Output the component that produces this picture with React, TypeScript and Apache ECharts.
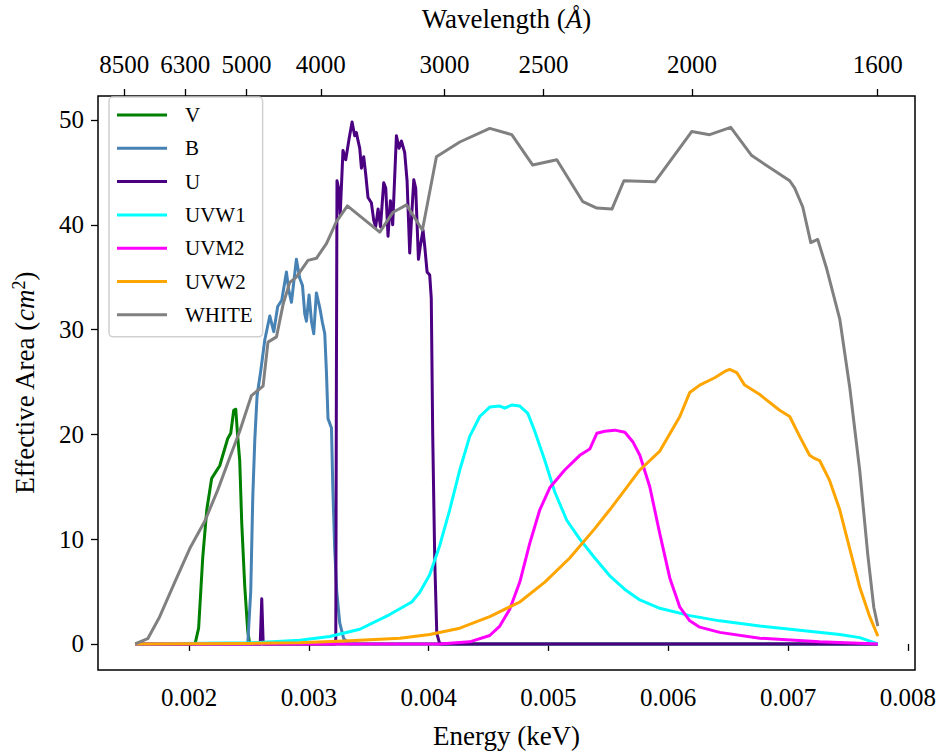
import React, { useEffect, useRef } from "react";
import * as echarts from "echarts";

// Tick labels
const energyTicks = [0.002, 0.003, 0.004, 0.005, 0.006, 0.007, 0.008];
const wavelengthTicks = [8500, 6300, 5000, 4000, 3000, 2500, 2000, 1600];
const areaTicks = [0, 10, 20, 30, 40, 50];
const HC = 12.398; // keV * Angstrom, energy = HC / wavelength

// Series values: [energy (keV), effective area (cm^2)]
const V: number[][] = [
  [0.00155, 0], [0.00205, 0], [0.00208, 1.5], [0.002114, 8.2], [0.002148, 12.8],
  [0.002189, 15.8], [0.002256, 17.0], [0.002323, 19.6], [0.002348, 20.1],
  [0.002373, 22.3], [0.00239, 22.4], [0.002406, 19.8], [0.002423, 17.5],
  [0.00244, 11.5], [0.002465, 5.5], [0.00249, 1.2], [0.002507, 0], [0.00775, 0],
];

const B: number[][] = [
  [0.00155, 0], [0.00249, 0], [0.002515, 5], [0.002532, 14], [0.002549, 19.5],
  [0.002568, 23.7], [0.002598, 26], [0.002632, 29.0], [0.002674, 31.3],
  [0.002707, 29.8], [0.00274, 32.2], [0.002774, 32.8], [0.002813, 35.5],
  [0.002832, 33.8], [0.002855, 32.6], [0.002874, 34.5], [0.002896, 36.7],
  [0.002924, 34.9], [0.002947, 34.2], [0.002966, 31.5], [0.00298, 30.8],
  [0.003002, 33.3], [0.003022, 30.8], [0.003041, 29.6], [0.003063, 33.5],
  [0.003091, 32.1], [0.003113, 30.7], [0.003133, 29.6], [0.003147, 25.9],
  [0.00316, 21.5], [0.003189, 20.6], [0.0032, 15], [0.003216, 9], [0.003233, 5],
  [0.003258, 2], [0.003291, 0.5], [0.003341, 0], [0.00775, 0],
];

const U: number[][] = [
  [0.00155, 0], [0.002594, 0], [0.002607, 4.3], [0.002619, 0], [0.003218, 0],
  [0.003225, 0.5], [0.00323, 25], [0.003235, 44.2], [0.003252, 43.3],
  [0.003262, 41.0], [0.003285, 47.1], [0.003308, 46.2], [0.003336, 48.2],
  [0.003361, 49.8], [0.003383, 48.5], [0.003397, 48.8], [0.003411, 48.0],
  [0.003425, 47.3], [0.003439, 45.4], [0.003458, 46.5], [0.003475, 44.8],
  [0.003494, 42.6], [0.003522, 42.1], [0.003542, 40.4], [0.003558, 39.8],
  [0.003578, 41.5], [0.003598, 39.8], [0.003625, 44.0], [0.003642, 43.5],
  [0.003661, 38.9], [0.003681, 42.3], [0.0037, 40.0], [0.003731, 48.5],
  [0.003753, 47.3], [0.003773, 48.0], [0.0038, 46.9], [0.00382, 44.2],
  [0.003842, 37.3], [0.003859, 41.0], [0.003876, 44.3], [0.003892, 43.5],
  [0.003915, 36.7], [0.003931, 38.0], [0.003953, 39.5], [0.003967, 38.0],
  [0.003987, 35.5], [0.004009, 35.2], [0.004022, 33], [0.004034, 20],
  [0.004051, 8], [0.004068, 1], [0.004093, 0], [0.00775, 0],
];

const UVW1: number[][] = [
  [0.00155, 0], [0.002507, 0.1], [0.002924, 0.35], [0.003174, 0.7], [0.003425, 1.4],
  [0.003675, 2.8], [0.003859, 4.0], [0.003925, 4.9], [0.004009, 6.6],
  [0.004093, 9.4], [0.004176, 12.8], [0.00426, 16.6], [0.004343, 19.8],
  [0.004427, 21.7], [0.00451, 22.6], [0.004594, 22.7], [0.004636, 22.5],
  [0.004694, 22.8], [0.004761, 22.7], [0.004828, 22.0], [0.004886, 20.3],
  [0.00497, 17.5], [0.005053, 14.5], [0.005153, 11.8], [0.005262, 10.0],
  [0.005387, 8.2], [0.005512, 6.5], [0.005638, 5.2], [0.005763, 4.2],
  [0.00593, 3.4], [0.00618, 2.7], [0.00643, 2.2], [0.006764, 1.7],
  [0.007097, 1.3], [0.007432, 0.9], [0.007599, 0.6], [0.00775, 0],
];

const UVM2: number[][] = [
  [0.00155, 0], [0.004093, 0], [0.004343, 0.2], [0.00451, 0.8], [0.004594, 1.7],
  [0.004677, 3.3], [0.004761, 5.9], [0.004844, 9.6], [0.004928, 12.8],
  [0.005011, 14.9], [0.005136, 16.6], [0.005262, 18.0], [0.005345, 18.6],
  [0.005404, 20.1], [0.00547, 20.3], [0.005554, 20.4], [0.005638, 20.2],
  [0.005704, 19.3], [0.005763, 18.0], [0.005846, 15.0], [0.00593, 10.5],
  [0.006013, 6.3], [0.006097, 3.5], [0.00618, 2.2], [0.006263, 1.6],
  [0.00643, 1.1], [0.006764, 0.55], [0.007264, 0.2], [0.00775, 0],
];

const UVW2: number[][] = [
  [0.00155, 0], [0.002507, 0.05], [0.002924, 0.1], [0.003341, 0.3], [0.00376, 0.55],
  [0.004009, 0.9], [0.00426, 1.5], [0.00451, 2.6], [0.004761, 4.0],
  [0.00497, 5.9], [0.005178, 8.2], [0.005387, 11.0], [0.005512, 12.8],
  [0.005638, 14.7], [0.005763, 16.6], [0.00593, 18.4], [0.006097, 21.7],
  [0.00618, 24.0], [0.006263, 24.7], [0.006388, 25.4], [0.006472, 26.0],
  [0.006513, 26.2], [0.006572, 25.9], [0.006638, 24.7], [0.006764, 23.8],
  [0.00693, 22.3], [0.007014, 21.7], [0.007097, 19.8], [0.00718, 18.0],
  [0.007222, 17.7], [0.007264, 17.5], [0.007347, 15.6], [0.007432, 12.8],
  [0.007515, 9.1], [0.007599, 5.4], [0.007682, 2.6], [0.00775, 0.75],
];

const WHITE: number[][] = [
  [0.00155, 0], [0.001655, 0.5], [0.001755, 2.6], [0.001881, 5.9], [0.002006, 9.1],
  [0.002131, 11.7], [0.00224, 14.7], [0.00234, 17.8], [0.002423, 20.3],
  [0.002521, 23.7], [0.002618, 24.6], [0.002659, 28.8], [0.00273, 29.3],
  [0.002785, 32.4], [0.002841, 34.5], [0.002896, 35.0], [0.002993, 36.6],
  [0.003063, 36.8], [0.003147, 38.2], [0.00323, 40.3], [0.003322, 41.8],
  [0.003592, 39.3], [0.003703, 41.2], [0.003815, 41.9], [0.003948, 39.5],
  [0.004065, 46.5], [0.00426, 47.9], [0.00451, 49.2], [0.004694, 48.6],
  [0.004869, 45.7], [0.00507, 46.2], [0.005287, 42.2], [0.005404, 41.6],
  [0.00553, 41.5], [0.00563, 44.2], [0.005889, 44.1], [0.006196, 48.9],
  [0.006346, 48.6], [0.006522, 49.3], [0.006697, 46.6], [0.007014, 44.2],
  [0.007056, 43.5], [0.007123, 41.7], [0.00719, 38.3], [0.007248, 38.6],
  [0.007323, 35.8], [0.007432, 31.0], [0.007515, 24.5], [0.007599, 16.5],
  [0.007666, 8.5], [0.007716, 3.5], [0.00775, 1.7],
];

const seriesNames = ["V", "B", "U", "UVW1", "UVM2", "UVW2", "WHITE"];
const seriesData = [V, B, U, UVW1, UVM2, UVW2, WHITE];

const FONT = "'Liberation Serif', 'DejaVu Serif', serif";
const COLORS = ["#008000", "#4682b4", "#4b0082", "#00ffff", "#ff00ff", "#ffa500", "#808080"];

export default function App() {
  const ref = useRef<HTMLDivElement>(null);

  useEffect(() => {
    if (!ref.current) return;
    const chart = echarts.init(ref.current, undefined, { renderer: "svg" });
    const tickStyle = { show: true, length: 7, inside: false, lineStyle: { color: "#000", width: 1.3 } };
    chart.setOption({
      animation: false,
      backgroundColor: "#fff",
      grid: {
        left: 98, right: 26, top: 86, bottom: 79,
        show: true, borderColor: "#000", borderWidth: 1.5, backgroundColor: "transparent",
      },
      legend: {
        orient: "vertical",
        left: 109, top: 97,
        data: seriesNames,
        icon: "rect",
        itemWidth: 50, itemHeight: 3,
        itemGap: 11.3,
        padding: [7, 10, 11, 8],
        backgroundColor: "rgba(255,255,255,0.8)",
        borderColor: "#d0d0d0", borderWidth: 1.5, borderRadius: 4,
        textStyle: { fontFamily: FONT, fontSize: 21, color: "#000", lineHeight: 22, padding: [0, 0, 0, 13] },
      },
      xAxis: [
        {
          type: "value", position: "bottom",
          min: 0.00124, max: 0.00806,
          name: "Energy (keV)", nameLocation: "middle", nameGap: 52,
          nameTextStyle: { fontFamily: FONT, fontSize: 27, color: "#000" },
          axisLine: { show: false },
          axisTick: { ...tickStyle, customValues: energyTicks },
          axisLabel: {
            customValues: energyTicks, margin: 15,
            fontFamily: FONT, fontSize: 25, color: "#000",
            formatter: (v: number) => v.toFixed(3),
          },
          splitLine: { show: false },
        },
        {
          type: "value", position: "top",
          min: 0.00124, max: 0.00806,
          name: "{n|Wavelength (}{i|Å}{n|)}", nameLocation: "middle", nameGap: 64,
          nameTextStyle: {
            fontFamily: FONT, fontSize: 27, color: "#000",
            rich: {
              n: { fontFamily: FONT, fontSize: 27, color: "#000" },
              i: { fontFamily: FONT, fontSize: 27, color: "#000", fontStyle: "italic" },
            },
          },
          axisLine: { show: false },
          axisTick: { ...tickStyle, customValues: wavelengthTicks.map((l) => HC / l) },
          axisLabel: {
            customValues: wavelengthTicks.map((l) => HC / l), margin: 19,
            fontFamily: FONT, fontSize: 25, color: "#000",
            formatter: (v: number) => String(Math.round(HC / v / 100) * 100),
          },
          splitLine: { show: false },
        },
      ],
      yAxis: {
        type: "value",
        min: -2.49, max: 52.29,
        name: "{n|Effective Area (}{i|cm}{s|2}{n|)}",
        nameLocation: "middle", nameGap: 58,
        nameTextStyle: {
          fontFamily: FONT, fontSize: 27, color: "#000",
          rich: {
            n: { fontFamily: FONT, fontSize: 27, color: "#000" },
            i: { fontFamily: FONT, fontSize: 27, color: "#000", fontStyle: "italic" },
            s: { fontFamily: FONT, fontSize: 18, color: "#000", verticalAlign: "top", lineHeight: 30 },
          },
        },
        axisLine: { show: false },
        axisTick: { ...tickStyle, customValues: areaTicks },
        axisLabel: {
          customValues: areaTicks, margin: 14,
          fontFamily: FONT, fontSize: 25, color: "#000",
        },
        splitLine: { show: false },
      },
      series: seriesNames.map((name, i) => ({
        name,
        type: "line",
        xAxisIndex: 0,
        data: seriesData[i],
        showSymbol: false,
        symbol: "none",
        color: COLORS[i],
        lineStyle: { color: COLORS[i], width: 3, join: "round" },
        z: 2 + i,
      })),
    });
    return () => chart.dispose();
  }, []);

  return (
    <div
      ref={ref}
      style={{ position: "fixed", left: 0, top: 0, width: 941, height: 754, background: "#fff" }}
    />
  );
}
